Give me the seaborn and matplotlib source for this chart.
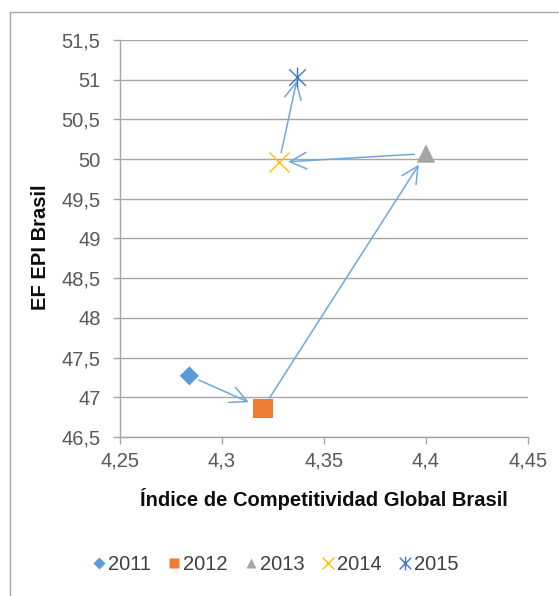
import matplotlib
matplotlib.use("Agg")
import matplotlib.pyplot as plt
from matplotlib.path import Path
from matplotlib.lines import Line2D
from matplotlib.patches import Rectangle
import pandas as pd
import seaborn as sns

# Data: Brazil, Global Competitiveness Index vs EF English Proficiency Index
years = ["2011", "2012", "2013", "2014", "2015"]
gci = [4.284, 4.320, 4.400, 4.328, 4.337]
epi = [47.27, 46.86, 50.07, 49.96, 51.03]

x_ticks = [4.25, 4.30, 4.35, 4.40, 4.45]
x_tick_labels = ["4,25", "4,3", "4,35", "4,4", "4,45"]
y_ticks = [46.5, 47.0, 47.5, 48.0, 48.5, 49.0, 49.5, 50.0, 50.5, 51.0, 51.5]
y_tick_labels = ["46,5", "47", "47,5", "48", "48,5", "49", "49,5", "50", "50,5", "51", "51,5"]

x_label = "Índice de Competitividad Global Brasil"
y_label = "EF EPI Brasil"

df = pd.DataFrame({"year": years, "gci": gci, "epi": epi})

sns.set_style("white")
plt.rcParams["font.family"] = ["Liberation Sans", "DejaVu Sans"]

GRID = "#A6A6A6"
TICK_TXT = "#595959"

# asterisk marker: a cross with a vertical bar through it
asterisk = Path(
    [(-1, -1), (1, 1), (-1, 1), (1, -1), (0, -1.2), (0, 1.2)],
    [Path.MOVETO, Path.LINETO, Path.MOVETO, Path.LINETO, Path.MOVETO, Path.LINETO],
)

styles = {
    "2011": dict(marker="D", color="#5B9BD5", s=95, edge="none", lw=0, leg_ms=6),
    "2012": dict(marker="s", color="#ED7D31", s=200, edge="none", lw=0, leg_ms=7),
    "2013": dict(marker="^", color="#A5A5A5", s=175, edge="none", lw=0, leg_ms=7),
    "2014": dict(marker="x", color="#FFC000", s=205, edge="#FFC000", lw=1.0, leg_ms=9),
    "2015": dict(marker=asterisk, color="#4472C4", s=205, edge="#4472C4", lw=1.0, leg_ms=10),
}

fig = plt.figure(figsize=(5.59, 5.96), dpi=100)
W, H = 559, 596
ax = fig.add_axes([120 / W, (H - 437) / H, 408 / W, 397 / H])

# arrows tracing the yearly path
arrow_shrink = [(7.5, 11.0), (9.0, 9.5), (8.5, 6.5), (7.0, 2.5)]
for i in range(len(years) - 1):
    sa, sb = arrow_shrink[i]
    ax.annotate(
        "",
        xy=(gci[i + 1], epi[i + 1]),
        xytext=(gci[i], epi[i]),
        arrowprops=dict(
            arrowstyle="->,head_length=1.2,head_width=0.6",
            color="#6FA8DC",
            lw=1.1,
            shrinkA=sa,
            shrinkB=sb,
            mutation_scale=10,
        ),
        zorder=2,
    )

for _, row in df.iterrows():
    st = styles[row["year"]]
    sns.scatterplot(
        x=[row["gci"]], y=[row["epi"]], ax=ax,
        marker=st["marker"], color=st["color"], s=st["s"],
        edgecolor=st["edge"], linewidth=st["lw"], zorder=3, legend=False,
    )

ax.set_xlim(x_ticks[0], x_ticks[-1])
ax.set_ylim(y_ticks[0], y_ticks[-1])
ax.set_xticks(x_ticks)
ax.set_xticklabels(x_tick_labels)
ax.set_yticks(y_ticks)
ax.set_yticklabels(y_tick_labels)

ax.grid(False)
ax.yaxis.grid(True, color=GRID, lw=1.0)
ax.set_axisbelow(True)
for side in ["top", "right"]:
    ax.spines[side].set_visible(False)
for side in ["left", "bottom"]:
    ax.spines[side].set_color(GRID)
    ax.spines[side].set_linewidth(1.0)

ax.tick_params(axis="both", which="major", length=5, width=1.0, color=GRID,
               labelsize=14.5, labelcolor=TICK_TXT, direction="out")
ax.tick_params(axis="y", pad=9.0, left=True)
ax.tick_params(axis="x", pad=5.5, bottom=True)

ax.set_xlabel(x_label, fontsize=14.5, fontweight="bold", color="#0D0D0D")
ax.xaxis.label.set_va("center")
ax.xaxis.set_label_coords(0.5, (437 - 499) / 397)
ax.set_ylabel(y_label, fontsize=14.5, fontweight="bold", color="#0D0D0D")
ax.yaxis.label.set_va("center")
ax.yaxis.set_label_coords((41 - 120) / 408, (437 - 247) / 397)

handles = []
for y in years:
    st = styles[y]
    filled = st["edge"] == "none"
    handles.append(Line2D(
        [], [], linestyle="none", marker=st["marker"], markersize=st["leg_ms"],
        markerfacecolor=st["color"] if filled else "none",
        markeredgecolor=st["color"] if not filled else "none",
        markeredgewidth=1.0, label=y,
    ))
fig.legend(
    handles=handles, loc="center", bbox_to_anchor=(275 / W, (H - 565) / H),
    ncol=5, frameon=False, fontsize=14.5, handlelength=0.7, handletextpad=0.1,
    columnspacing=0.8, labelcolor="#404040",
)

# chart area border
fig.add_artist(Rectangle((9.5 / W, -0.1), 2.0, (H - 11.5) / H + 0.1,
                         transform=fig.transFigure, fill=False,
                         edgecolor=GRID, lw=1.0))

fig.savefig("out.png", dpi=100)
